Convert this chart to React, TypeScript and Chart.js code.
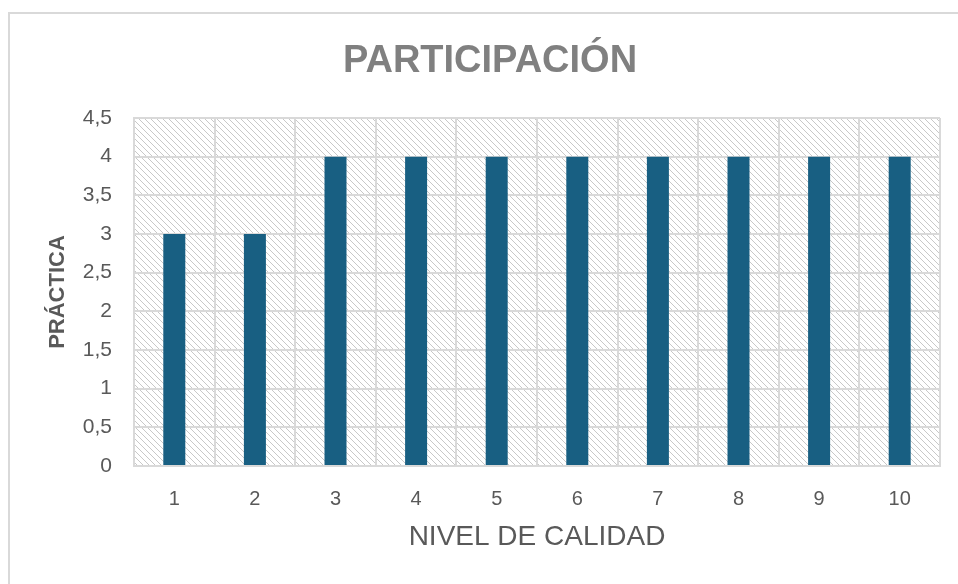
import React, { useEffect, useRef } from "react";
import { Chart, registerables } from "chart.js";

Chart.register(...registerables);

const categories = ["1", "2", "3", "4", "5", "6", "7", "8", "9", "10"];
const practica = [3, 3, 4, 4, 4, 4, 4, 4, 4, 4];
const titleText = "PARTICIPACIÓN";
const xTitle = "NIVEL DE CALIDAD";
const yTitle = "PRÁCTICA";

const FONT = "'Liberation Sans', Arial, sans-serif";

function makePattern(ctx: CanvasRenderingContext2D) {
  const t = document.createElement("canvas");
  t.width = 6;
  t.height = 6;
  const c = t.getContext("2d")!;
  c.fillStyle = "#ffffff";
  c.fillRect(0, 0, 6, 6);
  c.fillStyle = "#c8c8c8";
  for (let i = 0; i < 6; i++) c.fillRect(i, i, 1, 1);
  return ctx.createPattern(t, "repeat");
}

const hatchPlugin = {
  id: "hatchBg",
  beforeDraw(chart: any) {
    const { ctx, chartArea } = chart;
    if (!chartArea) return;
    ctx.save();
    const p = makePattern(ctx);
    ctx.fillStyle = p || "#eeeeee";
    ctx.fillRect(chartArea.left, chartArea.top, chartArea.right - chartArea.left, chartArea.bottom - chartArea.top);
    ctx.restore();
  },
};

export default function App() {
  const ref = useRef<HTMLCanvasElement | null>(null);
  useEffect(() => {
    if (!ref.current) return;
    const chart = new Chart(ref.current, {
      type: "bar",
      data: {
        labels: categories,
        datasets: [
          {
            label: yTitle,
            data: practica,
            backgroundColor: "#185f82",
            barPercentage: 0.273,
            categoryPercentage: 1,
            yAxisID: "y",
          },
        ],
      },
      plugins: [hatchPlugin],
      options: {
        responsive: false,
        animation: false,
        layout: { padding: 0 },
        plugins: {
          legend: { display: false },
          tooltip: { enabled: false },
          title: {
            display: true,
            text: titleText,
            color: "#808080",
            font: { family: FONT, size: 38, weight: "bold" },
            padding: { top: 25, bottom: 33.4 },
          },
        },
        scales: {
          x: {
            offset: true,
            grid: { display: true, offset: true, color: "#d9d9d9", lineWidth: 2, drawTicks: false },
            border: { display: true, color: "#d9d9d9", width: 2 },
            ticks: { color: "#595959", font: { family: FONT, size: 20 }, padding: 21 },
            title: {
              display: true,
              text: xTitle,
              color: "#595959",
              font: { family: FONT, size: 28 },
              padding: { top: 0, bottom: 30 },
            },
            afterFit(scale: any) {
              scale.height = 118;
            },
          },
          y: {
            min: 0,
            max: 4.5,
            grid: { color: "#d9d9d9", lineWidth: 2, drawTicks: false },
            border: { display: true, color: "#d9d9d9", width: 2 },
            ticks: {
              stepSize: 0.5,
              color: "#595959",
              font: { family: FONT, size: 21 },
              padding: 22,
              callback: (v: any) => String(v).replace(".", ","),
            },
            title: {
              display: true,
              text: yTitle,
              color: "#595959",
              font: { family: FONT, size: 22, weight: "bold" },
              padding: { top: 35, bottom: 0 },
            },
            afterFit(scale: any) {
              scale.width = 124;
            },
          },
          yRight: {
            position: "right",
            display: true,
            min: 0,
            max: 4.5,
            grid: { display: false, drawTicks: false },
            border: { display: false },
            ticks: { display: false },
            title: { display: false },
            afterFit(scale: any) {
              scale.width = 30;
            },
          },
        },
      },
    });
    return () => chart.destroy();
  }, []);

  return (
    <div style={{ position: "fixed", left: 0, top: 0, width: 958, height: 584, overflow: "hidden", background: "#fff" }}>
      <div
        style={{
          position: "absolute",
          left: 8,
          top: 12,
          width: 1000,
          height: 700,
          borderTop: "2px solid #d9d9d9",
          borderLeft: "2px solid #d9d9d9",
          boxSizing: "border-box",
        }}
      />
      <canvas ref={ref} width={960} height={570} style={{ position: "absolute", left: 10, top: 14 }} />
    </div>
  );
}
